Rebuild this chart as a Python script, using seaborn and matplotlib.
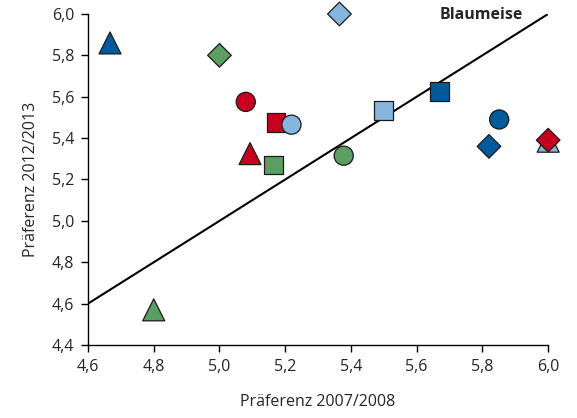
import matplotlib as mpl
mpl.use("Agg")
import matplotlib.pyplot as plt
import matplotlib.ticker as mticker
import pandas as pd
import seaborn as sns

sns.set_style("ticks")
plt.rcParams["font.family"] = ["Open Sans", "DejaVu Sans"]

# values (draw order matters for overlaps)
pref_0708 = [4.667, 5.00, 5.08, 5.172, 5.219, 5.093, 5.164, 5.365,
             5.378, 5.50, 5.669, 5.851, 5.82, 6.00, 6.00, 4.80]
pref_1213 = [5.86, 5.80, 5.575, 5.475, 5.465, 5.325, 5.27, 6.00,
             5.315, 5.535, 5.625, 5.49, 5.36, 5.385, 5.39, 4.57]
group = ["dunkelblau", "gruen", "rot", "rot", "hellblau", "rot", "gruen", "hellblau",
         "gruen", "hellblau", "dunkelblau", "dunkelblau", "dunkelblau", "hellblau", "rot", "gruen"]
shape = ["dreieck", "raute", "kreis", "quadrat", "kreis", "dreieck", "quadrat", "raute",
         "kreis", "quadrat", "quadrat", "kreis", "raute", "dreieck", "raute", "dreieck"]

PALETTE = {"dunkelblau": "#005a9c", "hellblau": "#86b6de",
           "gruen": "#5a9e62", "rot": "#c8001e"}
MARKERS = {"dreieck": "^", "raute": "D", "kreis": "o", "quadrat": "s"}
SIZES = {"dreieck": 250, "raute": 145, "kreis": 190, "quadrat": 185}

df = pd.DataFrame({"x": pref_0708, "y": pref_1213, "group": group, "shape": shape})

fig = plt.figure(figsize=(5.77, 4.18), dpi=100)
ax = fig.add_axes([0.1525, 0.1746, 0.7975, 0.792])

ax.plot([4.6, 6.0], [4.6, 6.0], color="black", lw=1.5, zorder=1)

sns.scatterplot(
    data=df, x="x", y="y",
    hue="group", palette=PALETTE,
    style="shape", markers=MARKERS,
    size="shape", sizes=SIZES,
    edgecolor="#1a1a1a", linewidth=0.9,
    legend=False, ax=ax, zorder=3, clip_on=False,
)

ax.set_xlim(4.6, 6.0)
ax.set_ylim(4.4, 6.0)
ax.xaxis.set_major_locator(mticker.MultipleLocator(0.2))
ax.yaxis.set_major_locator(mticker.MultipleLocator(0.2))
fmt = mticker.FuncFormatter(lambda v, _: f"{v:.1f}".replace(".", ","))
ax.xaxis.set_major_formatter(fmt)
ax.yaxis.set_major_formatter(fmt)
ax.tick_params(labelsize=11.5, length=5, width=1.0, color="black", pad=5)

for side in ["top", "right"]:
    ax.spines[side].set_visible(False)
for side in ["left", "bottom"]:
    ax.spines[side].set_linewidth(1.0)
    ax.spines[side].set_color("black")

ax.set_xlabel("Präferenz 2007/2008", fontsize=11.5, labelpad=14)
ax.set_ylabel("Präferenz 2012/2013", fontsize=11.5, labelpad=9)

ax.text(0.854, 0.997, "Blaumeise", transform=ax.transAxes, ha="center", va="center",
        fontsize=11.5, fontweight="bold")

fig.savefig("out.png", dpi=100)
